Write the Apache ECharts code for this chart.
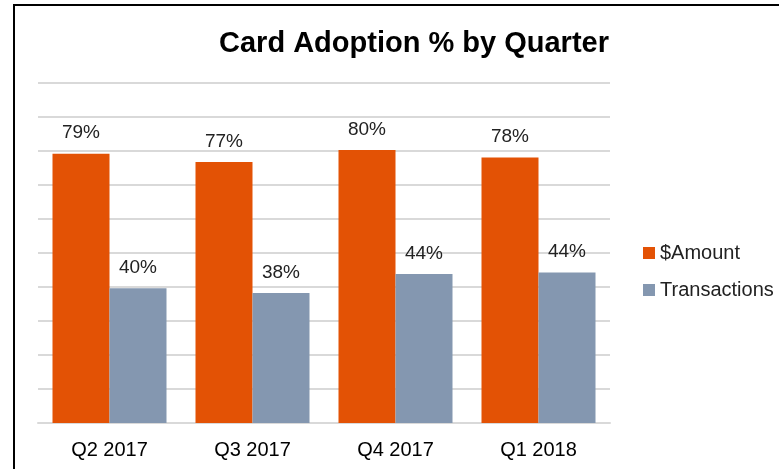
<!DOCTYPE html>
<html>
<head>
<meta charset="utf-8">
<title>Card Adoption % by Quarter</title>
<script src="https://cdn.jsdelivr.net/npm/echarts@6/dist/echarts.min.js"></script>
<style>
  html, body { margin: 0; padding: 0; background: #fff; }
  #main { width: 779px; height: 469px; }
</style>
</head>
<body>
<div id="main"></div>
<script>
  // data
  var quarters = ['Q2 2017', 'Q3 2017', 'Q4 2017', 'Q1 2018'];
  var amountPct = [79.2, 76.8, 80.3, 78.1];
  var transactionPct = [39.6, 38.2, 43.8, 44.3];

  var chart = echarts.init(document.getElementById('main'));
  var txtFont = 'Liberation Sans, Arial, sans-serif';

  var barLabel = {
    show: true,
    position: 'top',
    distance: 11,
    color: '#222',
    fontSize: 19,
    fontFamily: txtFont,
    formatter: function (p) { return Math.round(p.value) + '%'; }
  };

  var option = {
    animation: false,
    backgroundColor: '#fff',
    title: {
      text: 'Card Adoption % by Quarter',
      left: 409,
      textAlign: 'center',
      top: 24,
      textStyle: { fontSize: 29, fontWeight: 'bold', color: '#000', fontFamily: txtFont }
    },
    // frame of the original slide
    graphic: [{
      type: 'rect',
      shape: { x: 14, y: 5, width: 900, height: 600 },
      style: { fill: 'none', stroke: '#000', lineWidth: 2 }
    }],
    legend: {
      orient: 'vertical',
      left: 638,
      top: 238,
      itemWidth: 12,
      itemHeight: 12,
      itemGap: 17,
      icon: 'rect',
      textStyle: { fontSize: 20, color: '#222', fontFamily: txtFont },
      data: ['$Amount', 'Transactions']
    },
    grid: { left: 38, right: 169, top: 83, bottom: 46 },
    xAxis: {
      type: 'category',
      data: quarters,
      axisLine: { lineStyle: { color: '#d9d9d9', width: 2 } },
      axisTick: { show: false },
      axisLabel: { fontSize: 20, color: '#000', margin: 17, fontFamily: txtFont }
    },
    yAxis: {
      type: 'value',
      min: 0,
      max: 100,
      interval: 10,
      axisLabel: { show: false },
      axisLine: { show: false },
      axisTick: { show: false },
      splitLine: { lineStyle: { color: '#d9d9d9', width: 2 } }
    },
    series: [{
      name: '$Amount',
      type: 'bar',
      data: amountPct,
      barWidth: 57,
      barGap: '0%',
      itemStyle: { color: '#E35205' },
      label: barLabel
    }, {
      name: 'Transactions',
      type: 'bar',
      data: transactionPct,
      barWidth: 57,
      barGap: '0%',
      itemStyle: { color: '#8497B0' },
      label: barLabel
    }]
  };

  chart.setOption(option);
</script>
</body>
</html>
